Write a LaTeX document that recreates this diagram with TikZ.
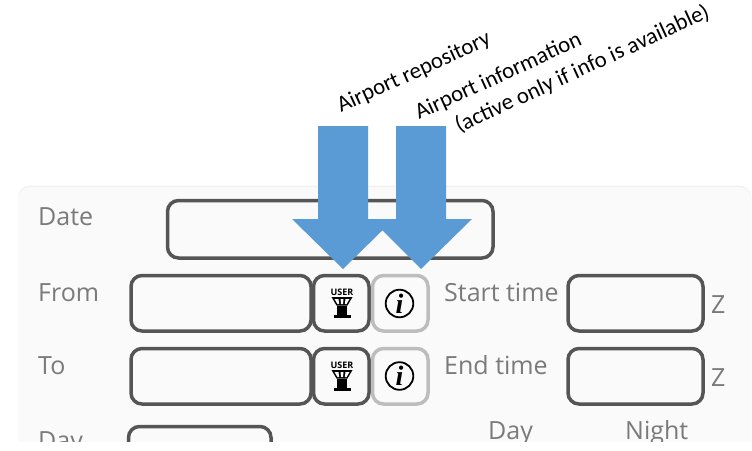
\documentclass[tikz,border=0pt]{standalone}
\usepackage{fontspec}
\setmainfont{Open Sans}
\newfontfamily\calib{Carlito}
\newfontfamily\iconserif{Liberation Serif}
\definecolor{panelc}{HTML}{FAFAFA}
\definecolor{edgec}{HTML}{555555}
\definecolor{softc}{HTML}{BDBDBD}
\definecolor{labelc}{HTML}{7A7A7A}
\definecolor{arrowc}{HTML}{5B9BD5}
\definecolor{toptint}{HTML}{F6F0EC}
\tikzset{
  x=1pt,y=1pt,
  field/.style={draw=edgec,line width=3.5pt,rounded corners=11pt,fill=panelc},
  softfield/.style={draw=softc,line width=3.5pt,rounded corners=11pt,fill=panelc},
  formlabel/.style={anchor=base west,text=labelc,font=\fontsize{25}{25}\selectfont,inner sep=0pt},
  note/.style={anchor=base west,rotate=24.7,text=black,font=\calib\fontsize{22.8}{22.8}\selectfont,inner sep=0pt},
  bigarrow/.style={fill=arrowc,draw=none},
  infoglyph/.style={font=\iconserif\itshape\bfseries\fontsize{28}{28}\selectfont,inner sep=0pt,text=black}
}
\newcommand{\towericon}[2]{%
  \begin{scope}[shift={(#1,#2)}]
    \node[inner sep=0pt,font=\bfseries\fontsize{9}{9}\selectfont,text=black] at (0,9.5) {USER};
    \fill[black] (-10.5,5) -- (10.5,5) -- (5.5,-3.5) -- (-5.5,-3.5) -- cycle;
    \fill[panelc] (-7.5,3) -- (-3.5,3) -- (-2.8,-2) -- (-4.6,-2) -- cycle;
    \fill[panelc] (-1.5,3) -- (1.5,3) -- (1,-2) -- (-1,-2) -- cycle;
    \fill[panelc] (3.5,3) -- (7.5,3) -- (4.6,-2) -- (2.8,-2) -- cycle;
    \fill[black] (-5,-3.5) rectangle (5,-13);
    \fill[black] (-8.5,-13) rectangle (8.5,-15.5);
  \end{scope}}
\newcommand{\infoicon}[2]{%
  \draw[black,line width=1.8pt] (#1,#2) circle (13.8pt);
  \node[infoglyph] at (#1,#2) {i};}
\begin{document}
\begin{tikzpicture}
\useasboundingbox (0,0) rectangle (752,-450);
\fill[white] (0,0) rectangle (752,-450);
\begin{scope}
  \clip (0,-180) rectangle (752,-441);
  \fill[toptint,rounded corners=12pt] (18,-185.5) rectangle (751,-470);
  \fill[panelc,rounded corners=12pt] (18,-187) rectangle (751,-470);
  \node[formlabel] (dateL) at (38,-225.5) {Date};
  \node[formlabel] (fromL) at (38,-301) {From};
  \node[formlabel] (toL) at (38,-374) {To};
  \node[formlabel] (dayL) at (38,-449) {Day};
  \node[formlabel] (startL) at (444,-301) {Start time};
  \node[formlabel] (endL) at (444,-374) {End time};
  \node[formlabel] (z1) at (711,-313.5) {Z};
  \node[formlabel] (z2) at (711,-386.5) {Z};
  \node[formlabel] (dayH) at (488,-439) {Day};
  \node[formlabel] (nightH) at (625,-439) {Night};
  \draw[field] (167.5,-200.5) rectangle (493,-258);
  \draw[field] (131,-275.5) rectangle (311,-331);
  \draw[field] (131,-348.5) rectangle (311,-404);
  \draw[field] (128.5,-426.5) rectangle (271,-470);
  \draw[field] (313.5,-275.5) rectangle (369,-331);
  \draw[field] (313.5,-348.5) rectangle (369,-404);
  \draw[softfield] (372.5,-275.5) rectangle (428,-331);
  \draw[softfield] (372.5,-348.5) rectangle (428,-404);
  \draw[field] (568,-275.5) rectangle (703,-331);
  \draw[field] (568,-348.5) rectangle (703,-404);
\end{scope}
\towericon{342}{-302}
\towericon{342}{-375}
\infoicon{399.5}{-303.5}
\infoicon{399.5}{-376}
\fill[bigarrow] (318,-126) -- (368,-126) -- (368,-219) -- (394,-219) -- (343,-269) -- (292,-219) -- (318,-219) -- cycle;
\fill[bigarrow] (396,-126) -- (446,-126) -- (446,-219) -- (472,-219) -- (421,-269) -- (371,-219) -- (396,-219) -- cycle;
\node[note] (repo) at (341,-113) {Airport repository};
\node[note] (info) at (419,-120) {Airport information};
\node[note] (active) at (459,-133) {(active only if info is available)};
\end{tikzpicture}
\end{document}
